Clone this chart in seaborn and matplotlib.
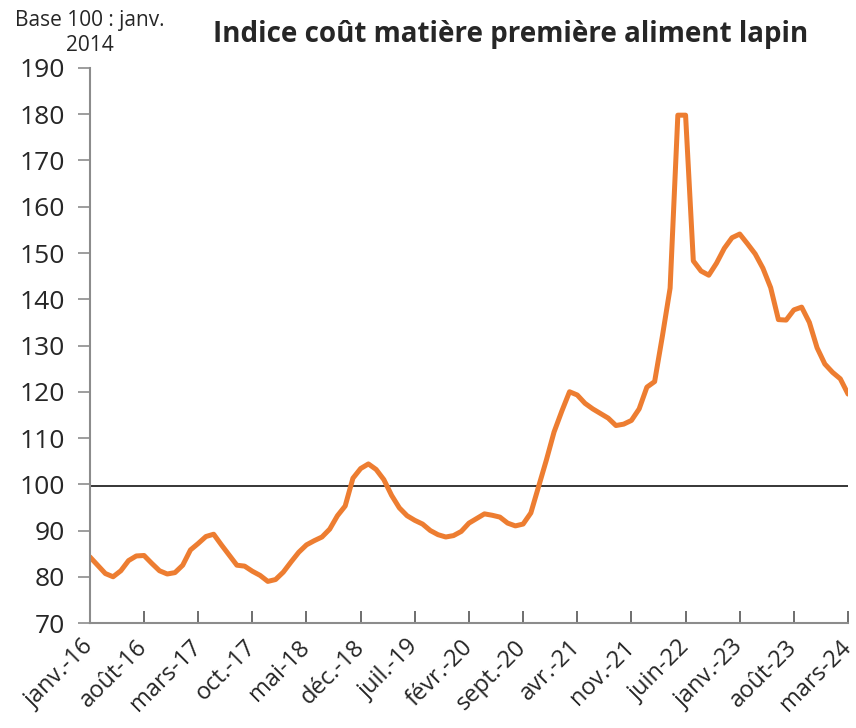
import numpy as np
import pandas as pd
import matplotlib
matplotlib.use('Agg')
import matplotlib.pyplot as plt
import seaborn as sns

# ── Data (monthly, janv. 2016 -> mars 2024) ────────────────
months = pd.date_range('2016-01-01', '2024-03-01', freq='MS')
indice = [
    84.3, 82.5, 80.7, 80.0, 81.3, 83.5, 84.5, 84.6, 82.9, 81.3, 80.6, 80.9,
    82.5, 85.8, 87.2, 88.7, 89.2, 86.9, 84.7, 82.5, 82.3, 81.2, 80.3, 79.0,
    79.4, 81.0, 83.2, 85.3, 86.9, 87.8, 88.6, 90.3, 93.2, 95.3, 101.3, 103.4,
    104.4, 103.2, 101.0, 97.6, 94.9, 93.2, 92.2, 91.4, 90.0, 89.1, 88.6, 88.9,
    89.8, 91.6, 92.6, 93.6, 93.3, 92.9, 91.6, 91.0, 91.4, 93.8, 99.5, 105.2,
    111.3, 115.8, 120.0, 119.3, 117.5, 116.3, 115.3, 114.3, 112.7, 113.0, 113.8, 116.3,
    121.0, 122.2, 132.0, 142.4, 179.8, 179.8, 148.3, 146.1, 145.2, 147.8, 151.0, 153.3,
    154.1, 152.0, 149.8, 146.7, 142.5, 135.6, 135.5, 137.7, 138.3, 135.0, 129.5, 126.0,
    124.2, 122.8, 119.5,
]
base_value = 99.7

mois_fr = ['janv.', 'févr.', 'mars', 'avr.', 'mai', 'juin',
           'juil.', 'août', 'sept.', 'oct.', 'nov.', 'déc.']
tick_step = 7
y_ticks = list(range(70, 191, 10))

df = pd.DataFrame({'idx': np.arange(len(indice)), 'indice': indice})

# ── Plot ───────────────────────────────────────────────────
sns.set_style('white')
plt.rcParams['font.family'] = ['Open Sans', 'DejaVu Sans']

fig = plt.figure(figsize=(8.56, 7.28), dpi=100)
ax = fig.add_axes([0.105, 0.1442, 0.8857, 0.7624])

ax.axhline(base_value, color='black', linewidth=1.1, zorder=1)
sns.lineplot(data=df, x='idx', y='indice', ax=ax, color='#ED7D31',
             linewidth=3.6, zorder=2)

ax.set_xlim(0, len(indice) - 1)
ax.set_ylim(70, 190)
ax.set_yticks(y_ticks)
ax.set_yticklabels([str(v) for v in y_ticks], fontsize=19)

xt = list(range(0, len(indice), tick_step))
labels = [f"{mois_fr[months[i].month - 1]}-{months[i].year % 100:02d}" for i in xt]
ax.set_xticks(xt)
ax.set_xticklabels(labels, fontsize=17, rotation=45, ha='right', va='center',
                   rotation_mode='anchor')

ax.tick_params(axis='y', direction='out', length=9, width=1.2, color='#8c8c8c',
               pad=9, left=True)
ax.tick_params(axis='x', direction='in', length=9, width=1.2, color='#555555',
               pad=15, bottom=True)

for side in ['top', 'right']:
    ax.spines[side].set_visible(False)
for side in ['left', 'bottom']:
    ax.spines[side].set_color('#8c8c8c')
    ax.spines[side].set_linewidth(1.5)

ax.set_xlabel('')
ax.set_ylabel('')

fig.text(0.105, 0.955, 'Base 100 : janv.\n2014', ha='center', va='center',
         fontsize=15, linespacing=1.25)
fig.text(0.597, 0.952, 'Indice coût matière première aliment lapin',
         ha='center', va='center', fontsize=20, fontweight='bold')

fig.savefig('out.png', dpi=100)
